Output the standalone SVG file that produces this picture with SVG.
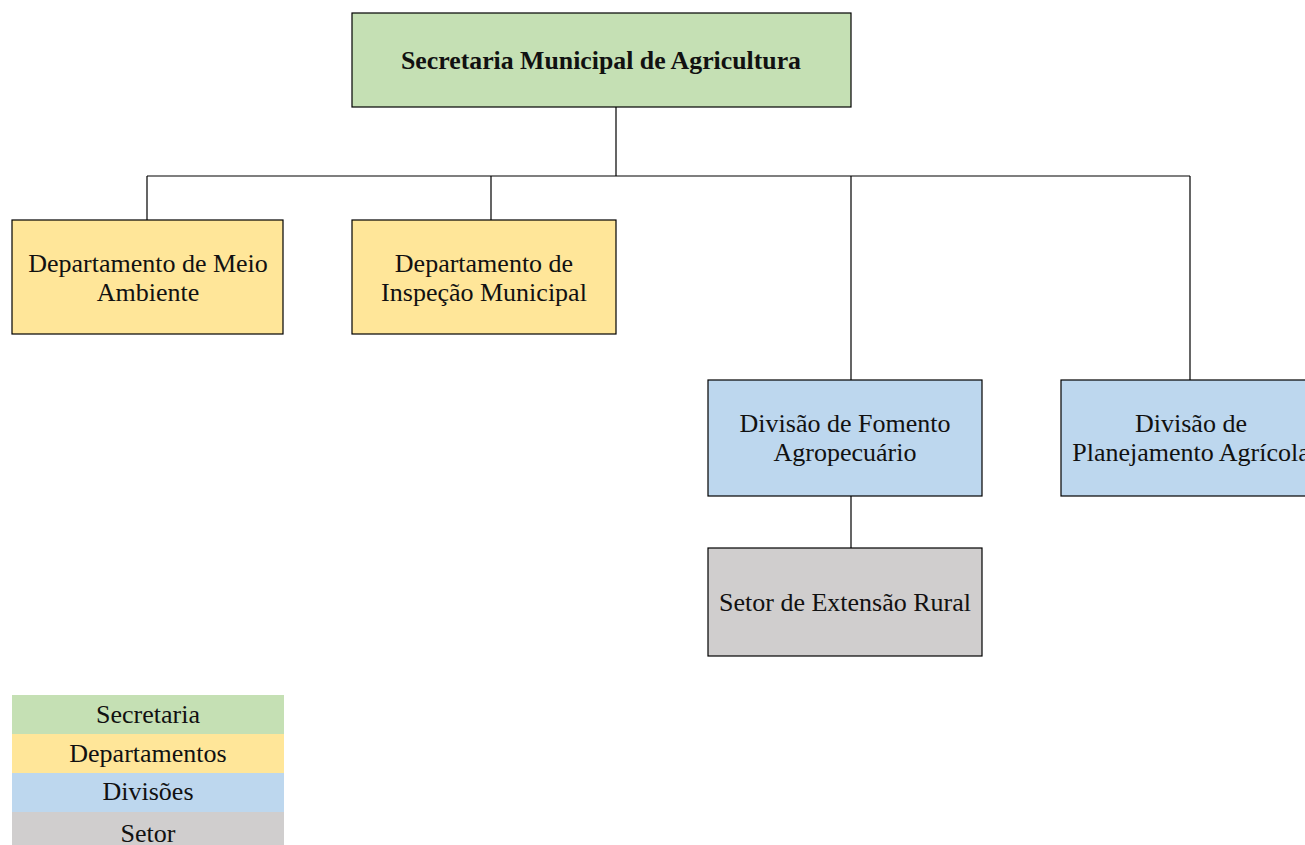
<svg xmlns="http://www.w3.org/2000/svg" width="1305" height="845" viewBox="0 0 1305 845">
<style>
.box{stroke:#000;stroke-width:1.2}
.sec{fill:#C5E0B4}.dep{fill:#FFE699}.div{fill:#BDD7EE}.set{fill:#D0CECE}
text{font-family:"Liberation Serif","Times New Roman",serif;font-size:26px;fill:#111;text-anchor:middle}
.b{font-weight:bold;font-size:25.8px}
.conn{stroke:#000;stroke-width:1.2;fill:none}
</style>
<rect width="1305" height="845" fill="#fff"/>
<g id="connectors">
<path class="conn" d="M616 107V176M147 176H1190M147 176V220M491 176V220M851 176V380M1190 176V380M851 496V548"/>
</g>
<g id="secretaria">
<rect class="box sec" x="352" y="13" width="499" height="94"/>
<text class="b" x="601" y="69">Secretaria Municipal de Agricultura</text>
</g>
<g id="dep-meio-ambiente">
<rect class="box dep" x="12" y="220" width="271" height="114"/>
<text x="148" y="272">Departamento de Meio</text>
<text x="148" y="301">Ambiente</text>
</g>
<g id="dep-inspecao">
<rect class="box dep" x="352" y="220" width="264" height="114"/>
<text x="484" y="272">Departamento de</text>
<text x="484" y="301">Inspeção Municipal</text>
</g>
<g id="div-fomento">
<rect class="box div" x="708" y="380" width="274" height="116"/>
<text x="845" y="432">Divisão de Fomento</text>
<text x="845" y="461">Agropecuário</text>
</g>
<g id="div-planejamento">
<rect class="box div" x="1061" y="380" width="260" height="116"/>
<text x="1191" y="432">Divisão de</text>
<text x="1191" y="461">Planejamento Agrícola</text>
</g>
<g id="setor-extensao">
<rect class="box set" x="708" y="548" width="274" height="108"/>
<text x="845" y="611">Setor de Extensão Rural</text>
</g>
<g id="legend">
<rect class="sec" x="12" y="695" width="272" height="39"/>
<rect class="dep" x="12" y="734" width="272" height="39"/>
<rect class="div" x="12" y="773" width="272" height="39"/>
<rect class="set" x="12" y="812" width="272" height="33"/>
<text x="148" y="723">Secretaria</text>
<text x="148" y="762">Departamentos</text>
<text x="148" y="800">Divisões</text>
<text x="148" y="842">Setor</text>
</g>
</svg>
